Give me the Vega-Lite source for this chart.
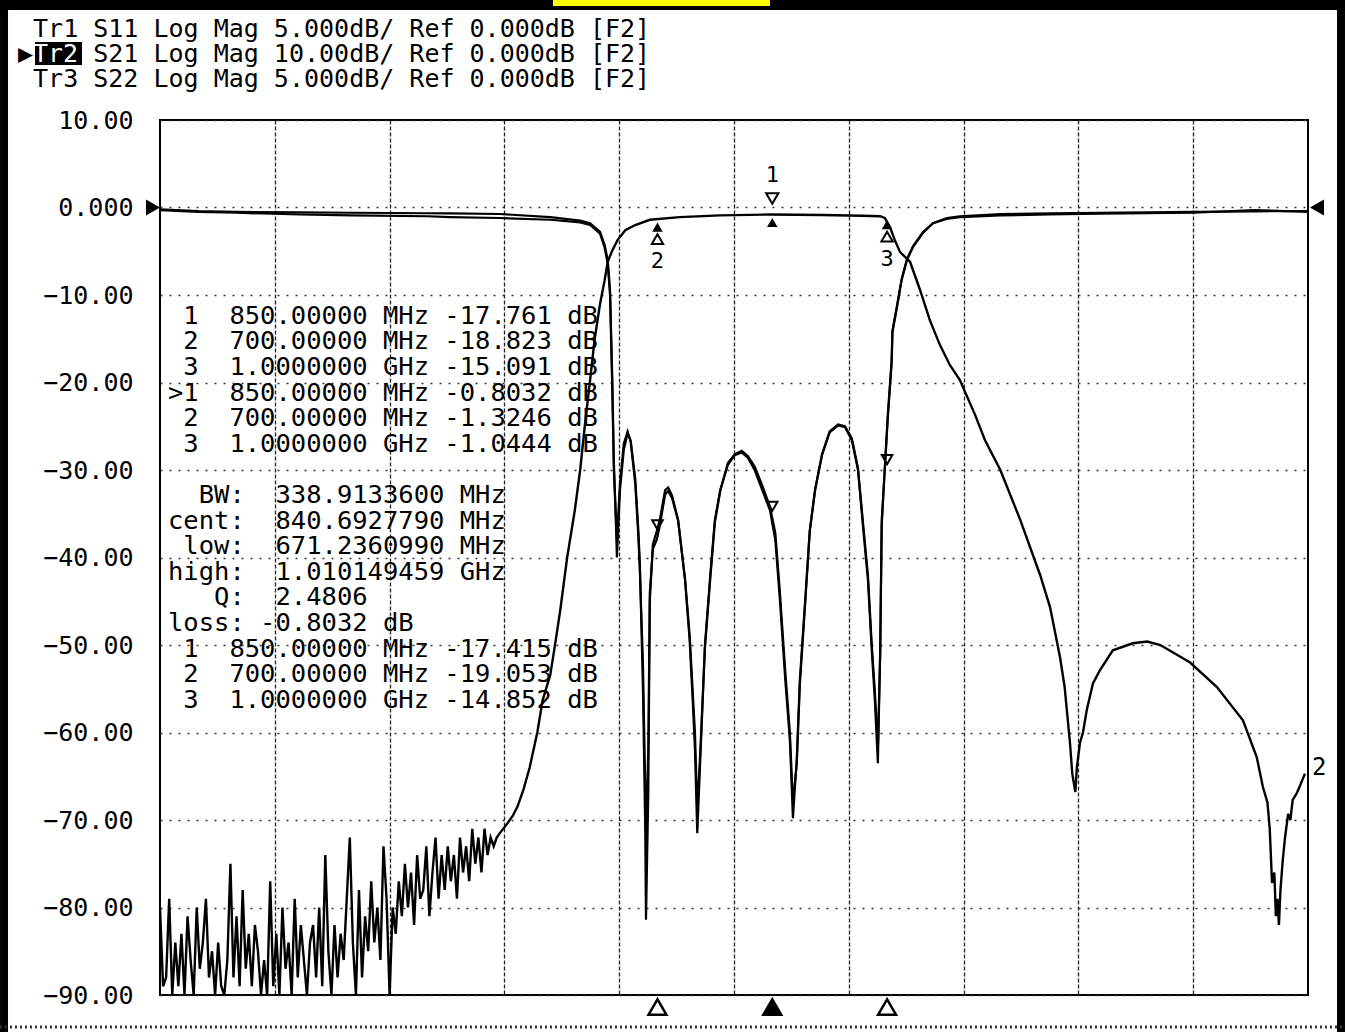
{
  "$schema": "https://vega.github.io/schema/vega-lite/v6.json",
  "width": 1148,
  "height": 875,
  "autosize": {"type": "none"},
  "padding": {"left": 160, "top": 120, "right": 37, "bottom": 37},
  "background": "white",
  "config": {
    "view": {"stroke": "black", "strokeWidth": 2},
    "axisX": {"grid": true, "labels": false, "ticks": false, "domain": false, "title": null, "gridColor": "#222", "gridDash": [4, 2], "gridWidth": 1.3},
    "axisY": {"grid": true, "ticks": false, "domain": false, "title": null, "gridColor": "#333", "gridDash": [2, 7], "gridWidth": 1.5, "labelFont": "DejaVu Sans Mono", "labelFontSize": 25, "labelColor": "black", "labelPadding": 27, "labelFlush": false, "labelOverlap": false, "labelBound": false}
  },
  "datasets": {
    "s21": [
      {"f":50,"db":-80},{"f":54,"db":-89},{"f":58,"db":-88},{"f":62,"db":-79},{"f":66,"db":-90},{"f":70,"db":-84},{"f":74,"db":-89},{"f":78,"db":-83},{"f":82,"db":-90},{"f":86,"db":-81},{"f":90,"db":-86},{"f":94,"db":-90},{"f":98,"db":-80},{"f":102,"db":-87},{"f":106,"db":-84},{"f":110,"db":-79},{"f":114,"db":-88},{"f":118,"db":-85},{"f":122,"db":-90},{"f":126,"db":-84},{"f":130,"db":-89},{"f":134,"db":-90},{"f":138,"db":-86},{"f":142,"db":-75},{"f":146,"db":-88},{"f":150,"db":-81},{"f":154,"db":-89},{"f":158,"db":-78},{"f":162,"db":-87},{"f":166,"db":-83},{"f":170,"db":-89},{"f":174,"db":-82},{"f":178,"db":-85},{"f":182,"db":-90},{"f":186,"db":-86},{"f":190,"db":-90},{"f":194,"db":-77},{"f":198,"db":-89},{"f":202,"db":-83},{"f":206,"db":-90},{"f":210,"db":-80},{"f":214,"db":-87},{"f":218,"db":-84},{"f":222,"db":-90},{"f":226,"db":-79},{"f":230,"db":-88},{"f":234,"db":-82},{"f":238,"db":-86},{"f":242,"db":-90},{"f":246,"db":-84},{"f":250,"db":-82},{"f":254,"db":-88},{"f":258,"db":-80},{"f":262,"db":-89},{"f":266,"db":-74},{"f":270,"db":-85},{"f":274,"db":-90},{"f":278,"db":-82},{"f":282,"db":-88},{"f":286,"db":-83},{"f":290,"db":-86},{"f":294,"db":-79},{"f":298,"db":-72},{"f":302,"db":-84},{"f":306,"db":-90},{"f":310,"db":-78},{"f":314,"db":-88},{"f":318,"db":-81},{"f":322,"db":-85},{"f":326,"db":-77},{"f":330,"db":-84},{"f":334,"db":-80},{"f":338,"db":-86},{"f":342,"db":-73},{"f":346,"db":-79},{"f":350,"db":-90},{"f":354,"db":-80},{"f":358,"db":-83},{"f":362,"db":-77},{"f":366,"db":-81},{"f":370,"db":-75},{"f":374,"db":-80},{"f":378,"db":-76},{"f":382,"db":-82},{"f":386,"db":-74},{"f":390,"db":-79},{"f":394,"db":-78},{"f":398,"db":-73},{"f":402,"db":-81},{"f":406,"db":-76},{"f":410,"db":-72},{"f":414,"db":-79},{"f":418,"db":-74},{"f":422,"db":-78},{"f":426,"db":-73},{"f":430,"db":-77},{"f":434,"db":-74},{"f":438,"db":-79},{"f":442,"db":-72},{"f":446,"db":-76},{"f":450,"db":-73},{"f":454,"db":-77},{"f":458,"db":-71},{"f":462,"db":-75},{"f":466,"db":-72},{"f":470,"db":-76},{"f":474,"db":-71},{"f":478,"db":-74},{"f":482,"db":-72},{"f":486,"db":-73},{"f":490,"db":-72},{"f":494,"db":-71.5},
      {"f":503,"db":-70.5},{"f":511,"db":-69.5},{"f":517,"db":-68.5},{"f":525,"db":-66.5},{"f":533,"db":-64},{"f":543,"db":-60},{"f":550,"db":-56.3},{"f":560,"db":-53.4},{"f":567,"db":-49.5},{"f":573,"db":-46},{"f":582,"db":-40},{"f":592,"db":-34.6},{"f":599,"db":-30},{"f":605,"db":-25},{"f":612,"db":-19.7},{"f":618,"db":-15},{"f":625,"db":-11},{"f":631,"db":-8.3},{"f":635,"db":-6.2},{"f":641,"db":-4.9},{"f":648,"db":-3.7},{"f":658,"db":-2.6},{"f":671,"db":-2},{"f":690,"db":-1.4},{"f":729,"db":-1.1},{"f":782,"db":-0.9},{"f":847,"db":-0.8},{"f":915,"db":-0.85},{"f":967,"db":-0.95},{"f":991,"db":-1.0},{"f":997,"db":-1.2},{"f":1004,"db":-2.3},{"f":1010,"db":-3.7},{"f":1017,"db":-5.1},{"f":1030,"db":-6.2},{"f":1043,"db":-9.4},{"f":1056,"db":-12.9},{"f":1069,"db":-15.7},{"f":1082,"db":-18},{"f":1095,"db":-19.7},{"f":1115,"db":-23.7},{"f":1128,"db":-26.6},{"f":1148,"db":-30},{"f":1174,"db":-35.7},{"f":1200,"db":-42},{"f":1213,"db":-45.7},{"f":1226,"db":-51.4},{"f":1232,"db":-54.8},{"f":1239,"db":-61.2},{"f":1242,"db":-64.7},{"f":1246,"db":-66.8},{"f":1248,"db":-64},{"f":1252,"db":-61.2},{"f":1256,"db":-60},{"f":1261,"db":-57.4},{"f":1269,"db":-54.4},{"f":1278,"db":-52.9},{"f":1295,"db":-50.6},{"f":1321,"db":-49.8},{"f":1340,"db":-49.6},{"f":1357,"db":-50},{"f":1396,"db":-52},{"f":1431,"db":-54.8},{"f":1465,"db":-58.6},{"f":1483,"db":-62.8},{"f":1491,"db":-66.2},{"f":1497,"db":-68},{"f":1500,"db":-71},{"f":1503,"db":-77.2},{"f":1506,"db":-76},{"f":1508,"db":-81},{"f":1510,"db":-79},{"f":1512,"db":-82},{"f":1514,"db":-78},{"f":1517,"db":-74.6},{"f":1520,"db":-72},{"f":1524,"db":-69.3},{"f":1527,"db":-70},{"f":1530,"db":-67.7},{"f":1535,"db":-67},{"f":1539,"db":-66.2},{"f":1546,"db":-64.7}
    ],
    "refl": [
      {"f":50,"s11":-0.1,"s22":-0.15},{"f":100,"s11":-0.2,"s22":-0.25},{"f":150,"s11":-0.25,"s22":-0.3},{"f":233,"s11":-0.28,"s22":-0.4},{"f":300,"s11":-0.3,"s22":-0.45},{"f":400,"s11":-0.33,"s22":-0.5},{"f":429,"s11":-0.34,"s22":-0.55},{"f":494,"s11":-0.37,"s22":-0.6},{"f":560,"s11":-0.55,"s22":-0.7},{"f":599,"s11":-0.75,"s22":-0.85},{"f":612,"s11":-0.9,"s22":-1.0},{"f":625,"s11":-1.4,"s22":-1.5},{"f":631,"s11":-2.15,"s22":-2.3},{"f":635,"s11":-3.0,"s22":-3.2},{"f":638,"s11":-4.7,"s22":-5.0},{"f":641,"s11":-9.85,"s22":-10.5},{"f":643,"s11":-14.45,"s22":-15},{"f":646,"s11":-18.45,"s22":-18},{"f":647,"s11":-20,"s22":-19},{"f":651,"s11":-16.15,"s22":-15.8},{"f":656,"s11":-13.85,"s22":-13.5},{"f":661,"s11":-12.9,"s22":-12.8},{"f":665,"s11":-13.3,"s22":-13.4},{"f":671,"s11":-15.5,"s22":-15.8},{"f":675,"s11":-18.45,"s22":-18.8},{"f":677,"s11":-20.3,"s22":-20.8},{"f":681,"s11":-27.5,"s22":-26},{"f":684,"s11":-35.5,"s22":-33},{"f":685,"s11":-40.7,"s22":-36},{"f":688,"s11":-33.5,"s22":-31},{"f":690,"s11":-22.5,"s22":-22},{"f":694,"s11":-19.25,"s22":-19.5},{"f":699,"s11":-18.5,"s22":-19},{"f":703,"s11":-17.85,"s22":-18.2},{"f":710,"s11":-16.15,"s22":-16.4},{"f":714,"s11":-16.0,"s22":-16.2},{"f":719,"s11":-16.45,"s22":-16.6},{"f":727,"s11":-17.85,"s22":-17.9},{"f":736,"s11":-21.3,"s22":-21.2},{"f":742,"s11":-24.7,"s22":-24.4},{"f":746,"s11":-28.15,"s22":-27.6},{"f":749,"s11":-31,"s22":-30},{"f":752,"s11":-35.75,"s22":-34.5},{"f":756,"s11":-31.5,"s22":-31},{"f":762,"s11":-25,"s22":-25.2},{"f":769,"s11":-21,"s22":-21.2},{"f":775,"s11":-17.85,"s22":-18},{"f":782,"s11":-16.15,"s22":-16.2},{"f":792,"s11":-14.7,"s22":-14.6},{"f":801,"s11":-14.15,"s22":-14.1},{"f":810,"s11":-14.0,"s22":-13.9},{"f":818,"s11":-14.3,"s22":-14.2},{"f":827,"s11":-15.0,"s22":-14.8},{"f":837,"s11":-16.15,"s22":-15.9},{"f":847,"s11":-17.3,"s22":-17.1},{"f":854,"s11":-19,"s22":-18.6},{"f":860,"s11":-22.45,"s22":-22},{"f":867,"s11":-27,"s22":-26.5},{"f":873,"s11":-30.45,"s22":-30},{"f":877,"s11":-34.9,"s22":-34},{"f":882,"s11":-31.5,"s22":-31.8},{"f":886,"s11":-27,"s22":-27.3},{"f":893,"s11":-22.45,"s22":-22.6},{"f":899,"s11":-18.45,"s22":-18.5},{"f":906,"s11":-16.15,"s22":-16.1},{"f":915,"s11":-14.15,"s22":-14.1},{"f":925,"s11":-12.85,"s22":-12.8},{"f":936,"s11":-12.45,"s22":-12.4},{"f":945,"s11":-12.55,"s22":-12.5},{"f":954,"s11":-13.3,"s22":-13.2},{"f":962,"s11":-15,"s22":-14.9},{"f":969,"s11":-18.45,"s22":-18.2},{"f":975,"s11":-21.3,"s22":-21},{"f":980,"s11":-25.3,"s22":-25},{"f":984,"s11":-28.15,"s22":-27.6},{"f":988,"s11":-31.75,"s22":-30.8},{"f":991,"s11":-25.3,"s22":-25.6},{"f":993,"s11":-17.85,"s22":-18.2},{"f":997,"s11":-15.0,"s22":-14.9},{"f":1001,"s11":-12.0,"s22":-11.8},{"f":1006,"s11":-8.9,"s22":-8.7},{"f":1007,"s11":-7.15,"s22":-7.0},{"f":1013,"s11":-5.7,"s22":-5.6},{"f":1019,"s11":-4.15,"s22":-4.1},{"f":1026,"s11":-3.0,"s22":-2.95},{"f":1034,"s11":-2.25,"s22":-2.2},{"f":1047,"s11":-1.45,"s22":-1.4},{"f":1060,"s11":-0.9,"s22":-0.9},{"f":1078,"s11":-0.6,"s22":-0.65},{"f":1095,"s11":-0.5,"s22":-0.55},{"f":1148,"s11":-0.37,"s22":-0.45},{"f":1213,"s11":-0.33,"s22":-0.4},{"f":1278,"s11":-0.3,"s22":-0.35},{"f":1400,"s11":-0.25,"s22":-0.3},{"f":1480,"s11":-0.22,"s22":-0.15},{"f":1550,"s11":-0.2,"s22":-0.25}
    ],
    "markers": [
      {"m":"1","f":850,"s21":-0.8032,"s11":-17.761,"s22":-17.415},
      {"m":"2","f":700,"s21":-1.3246,"s11":-18.823,"s22":-19.053},
      {"m":"3","f":1000,"s21":-1.0444,"s11":-15.091,"s22":-14.852}
    ]
  },
  "layer": [
    {
      "layer": [
        {
          "data": {"name": "s21"},
          "mark": {"type": "line", "color": "black", "strokeWidth": 2.4, "clip": true},
          "encoding": {
            "x": {"field": "f", "type": "quantitative", "scale": {"domain": [50, 1550], "nice": false, "zero": false}, "axis": {"values": [200, 350, 500, 650, 800, 950, 1100, 1250, 1400]}},
            "y": {"field": "db", "type": "quantitative", "scale": {"domain": [-90, 10], "nice": false, "zero": false}, "axis": {"values": [-90, -80, -70, -60, -50, -40, -30, -20, -10, 0, 10], "labelExpr": "datum.value == 0 ? '0.000' : format(datum.value, '.2f')"}}
          }
        },
        {
          "data": {"name": "markers"},
          "mark": {"type": "point", "shape": "triangle-up", "filled": true, "color": "black", "size": 110, "opacity": 1},
          "encoding": {
            "x": {"field": "f", "type": "quantitative", "scale": {"domain": [50, 1550], "nice": false, "zero": false}},
            "y": {"field": "s21", "type": "quantitative", "scale": {"domain": [-90, 10], "nice": false, "zero": false}},
            "yOffset": {"value": 8}
          }
        },
        {
          "data": {"name": "markers"},
          "transform": [{"filter": "datum.m == '1'"}],
          "mark": {"type": "point", "shape": "triangle-down", "filled": false, "stroke": "black", "strokeWidth": 2, "size": 150, "opacity": 1},
          "encoding": {
            "x": {"field": "f", "type": "quantitative", "scale": {"domain": [50, 1550], "nice": false, "zero": false}},
            "y": {"field": "s21", "type": "quantitative", "scale": {"domain": [-90, 10], "nice": false, "zero": false}},
            "yOffset": {"value": -16}
          }
        },
        {
          "data": {"name": "markers"},
          "transform": [{"filter": "datum.m != '1'"}],
          "mark": {"type": "point", "shape": "triangle-up", "filled": false, "stroke": "black", "strokeWidth": 2, "size": 130, "opacity": 1},
          "encoding": {
            "x": {"field": "f", "type": "quantitative", "scale": {"domain": [50, 1550], "nice": false, "zero": false}},
            "y": {"field": "s21", "type": "quantitative", "scale": {"domain": [-90, 10], "nice": false, "zero": false}},
            "yOffset": {"value": 20}
          }
        },
        {
          "data": {"name": "markers"},
          "transform": [{"filter": "datum.m == '1'"}],
          "mark": {"type": "text", "font": "DejaVu Sans Mono", "fontSize": 22, "color": "black", "dy": -40},
          "encoding": {
            "x": {"field": "f", "type": "quantitative", "scale": {"domain": [50, 1550], "nice": false, "zero": false}},
            "y": {"field": "s21", "type": "quantitative", "scale": {"domain": [-90, 10], "nice": false, "zero": false}},
            "text": {"field": "m"}
          }
        },
        {
          "data": {"name": "markers"},
          "transform": [{"filter": "datum.m != '1'"}],
          "mark": {"type": "text", "font": "DejaVu Sans Mono", "fontSize": 22, "color": "black", "dy": 42},
          "encoding": {
            "x": {"field": "f", "type": "quantitative", "scale": {"domain": [50, 1550], "nice": false, "zero": false}},
            "y": {"field": "s21", "type": "quantitative", "scale": {"domain": [-90, 10], "nice": false, "zero": false}},
            "text": {"field": "m"}
          }
        },
        {
          "data": {"name": "markers"},
          "mark": {"type": "point", "shape": "triangle-up", "stroke": "black", "strokeWidth": 2.5, "size": 320, "opacity": 1},
          "encoding": {
            "x": {"field": "f", "type": "quantitative", "scale": {"domain": [50, 1550], "nice": false, "zero": false}},
            "y": {"datum": -90, "type": "quantitative", "scale": {"domain": [-90, 10], "nice": false, "zero": false}},
            "yOffset": {"value": 12},
            "fill": {"condition": {"test": "datum.m == '1'", "value": "black"}, "value": "white"}
          }
        },
        {
          "data": {"values": [{}]},
          "mark": {"type": "point", "shape": "triangle-right", "filled": true, "color": "black", "size": 260, "opacity": 1},
          "encoding": {
            "x": {"datum": 50, "type": "quantitative", "scale": {"domain": [50, 1550], "nice": false, "zero": false}},
            "y": {"datum": 0, "type": "quantitative", "scale": {"domain": [-90, 10], "nice": false, "zero": false}},
            "xOffset": {"value": -7}
          }
        },
        {
          "data": {"values": [{}]},
          "mark": {"type": "point", "shape": "triangle-left", "filled": true, "color": "black", "size": 260, "opacity": 1},
          "encoding": {
            "x": {"datum": 1550, "type": "quantitative", "scale": {"domain": [50, 1550], "nice": false, "zero": false}},
            "y": {"datum": 0, "type": "quantitative", "scale": {"domain": [-90, 10], "nice": false, "zero": false}},
            "xOffset": {"value": 9}
          }
        },
        {
          "data": {"values": [{}]},
          "mark": {"type": "text", "text": "2", "font": "DejaVu Sans Mono", "fontSize": 24, "color": "black", "align": "left", "dx": 4},
          "encoding": {
            "x": {"datum": 1550, "type": "quantitative", "scale": {"domain": [50, 1550], "nice": false, "zero": false}},
            "y": {"datum": -64, "type": "quantitative", "scale": {"domain": [-90, 10], "nice": false, "zero": false}}
          }
        },
        {
          "data": {"values": [{}]},
          "mark": {
            "type": "text",
            "text": ["\u200b\u00a01\u00a0\u00a0850.00000\u00a0MHz\u00a0-17.761\u00a0dB", "\u200b\u00a02\u00a0\u00a0700.00000\u00a0MHz\u00a0-18.823\u00a0dB", "\u200b\u00a03\u00a0\u00a01.0000000\u00a0GHz\u00a0-15.091\u00a0dB", ">1\u00a0\u00a0850.00000\u00a0MHz\u00a0-0.8032\u00a0dB", "\u200b\u00a02\u00a0\u00a0700.00000\u00a0MHz\u00a0-1.3246\u00a0dB", "\u200b\u00a03\u00a0\u00a01.0000000\u00a0GHz\u00a0-1.0444\u00a0dB", "\u200b\u00a0", "\u200b\u00a0\u00a0BW:\u00a0\u00a0338.9133600\u00a0MHz", "cent:\u00a0\u00a0840.6927790\u00a0MHz", "\u200b\u00a0low:\u00a0\u00a0671.2360990\u00a0MHz", "high:\u00a0\u00a01.010149459\u00a0GHz", "\u200b\u00a0\u00a0\u00a0Q:\u00a0\u00a02.4806", "loss:\u00a0-0.8032\u00a0dB", "\u200b\u00a01\u00a0\u00a0850.00000\u00a0MHz\u00a0-17.415\u00a0dB", "\u200b\u00a02\u00a0\u00a0700.00000\u00a0MHz\u00a0-19.053\u00a0dB", "\u200b\u00a03\u00a0\u00a01.0000000\u00a0GHz\u00a0-14.852\u00a0dB"],
            "align": "left",
            "baseline": "top",
            "font": "DejaVu Sans Mono",
            "fontSize": 25.5,
            "lineHeight": 25.6,
            "dx": 8,
            "color": "black"
          },
          "encoding": {
            "x": {"datum": 50, "type": "quantitative", "scale": {"domain": [50, 1550], "nice": false, "zero": false}},
            "y": {"datum": -11, "type": "quantitative", "scale": {"domain": [-90, 10], "nice": false, "zero": false}}
          }
        },
        {
          "data": {"values": [{}]},
          "mark": {
            "type": "text",
            "text": ["\u200b\u00a0Tr1\u00a0S11\u00a0Log\u00a0Mag\u00a05.000dB/\u00a0Ref\u00a00.000dB\u00a0[F2]", "▶\u00a0\u00a0\u00a0\u00a0S21\u00a0Log\u00a0Mag\u00a010.00dB/\u00a0Ref\u00a00.000dB\u00a0[F2]", "\u200b\u00a0Tr3\u00a0S22\u00a0Log\u00a0Mag\u00a05.000dB/\u00a0Ref\u00a00.000dB\u00a0[F2]"],
            "align": "left",
            "baseline": "top",
            "font": "DejaVu Sans Mono",
            "fontSize": 25,
            "lineHeight": 25,
            "dx": -142,
            "color": "black"
          },
          "encoding": {
            "x": {"datum": 50, "type": "quantitative", "scale": {"domain": [50, 1550], "nice": false, "zero": false}},
            "y": {"datum": 21.77, "type": "quantitative", "scale": {"domain": [-90, 10], "nice": false, "zero": false}}
          }
        },
        {
          "data": {"values": [{}]},
          "mark": {"type": "rect", "color": "black", "opacity": 1},
          "encoding": {
            "x": {"datum": -113.3, "type": "quantitative", "scale": {"domain": [50, 1550], "nice": false, "zero": false}},
            "x2": {"datum": -51.9},
            "y": {"datum": 18.91, "type": "quantitative", "scale": {"domain": [-90, 10], "nice": false, "zero": false}},
            "y2": {"datum": 16.29}
          }
        },
        {
          "data": {"values": [{}]},
          "mark": {"type": "text", "text": "Tr2", "align": "left", "baseline": "top", "font": "DejaVu Sans Mono", "fontSize": 25, "dx": -127, "dy": 25, "color": "white"},
          "encoding": {
            "x": {"datum": 50, "type": "quantitative", "scale": {"domain": [50, 1550], "nice": false, "zero": false}},
            "y": {"datum": 21.77, "type": "quantitative", "scale": {"domain": [-90, 10], "nice": false, "zero": false}}
          }
        },
        {
          "data": {"values": [{}]},
          "mark": {"type": "rule", "color": "black", "strokeWidth": 8},
          "encoding": {
            "x": {"datum": -153.8, "type": "quantitative", "scale": {"domain": [50, 1550], "nice": false, "zero": false}},
            "y": {"datum": 23.71, "type": "quantitative", "scale": {"domain": [-90, 10], "nice": false, "zero": false}},
            "y2": {"datum": -94.23}
          }
        },
        {
          "data": {"values": [{}]},
          "mark": {"type": "rule", "color": "black", "strokeWidth": 8},
          "encoding": {
            "x": {"datum": 1593.1, "type": "quantitative", "scale": {"domain": [50, 1550], "nice": false, "zero": false}},
            "y": {"datum": 23.71, "type": "quantitative", "scale": {"domain": [-90, 10], "nice": false, "zero": false}},
            "y2": {"datum": -94.23}
          }
        },
        {
          "data": {"values": [{}]},
          "mark": {"type": "rule", "color": "black", "strokeWidth": 10},
          "encoding": {
            "x": {"datum": -159.1, "type": "quantitative", "scale": {"domain": [50, 1550], "nice": false, "zero": false}},
            "x2": {"datum": 1598.3},
            "y": {"datum": 23.14, "type": "quantitative", "scale": {"domain": [-90, 10], "nice": false, "zero": false}}
          }
        },
        {
          "data": {"values": [{}]},
          "mark": {"type": "rule", "color": "#ffff00", "strokeWidth": 6},
          "encoding": {
            "x": {"datum": 563.5, "type": "quantitative", "scale": {"domain": [50, 1550], "nice": false, "zero": false}},
            "x2": {"datum": 847},
            "y": {"datum": 23.37, "type": "quantitative", "scale": {"domain": [-90, 10], "nice": false, "zero": false}}
          }
        },
        {
          "data": {"values": [{}]},
          "mark": {"type": "rule", "color": "#333", "strokeWidth": 3, "strokeDash": [2, 3]},
          "encoding": {
            "x": {"datum": -159.1, "type": "quantitative", "scale": {"domain": [50, 1550], "nice": false, "zero": false}},
            "x2": {"datum": 1598.3},
            "y": {"datum": -93.66, "type": "quantitative", "scale": {"domain": [-90, 10], "nice": false, "zero": false}}
          }
        }
      ]
    },
    {
      "layer": [
        {
          "data": {"name": "refl"},
          "mark": {"type": "line", "color": "black", "strokeWidth": 2.2, "clip": true},
          "encoding": {
            "x": {"field": "f", "type": "quantitative", "scale": {"domain": [50, 1550], "nice": false, "zero": false}},
            "y": {"field": "s22", "type": "quantitative", "scale": {"domain": [-45, 5], "nice": false, "zero": false}, "axis": null}
          }
        },
        {
          "data": {"name": "refl"},
          "mark": {"type": "line", "color": "black", "strokeWidth": 2.2, "clip": true},
          "encoding": {
            "x": {"field": "f", "type": "quantitative", "scale": {"domain": [50, 1550], "nice": false, "zero": false}},
            "y": {"field": "s11", "type": "quantitative", "scale": {"domain": [-45, 5], "nice": false, "zero": false}, "axis": null}
          }
        },
        {
          "data": {"name": "markers"},
          "mark": {"type": "point", "shape": "triangle-down", "filled": false, "stroke": "black", "strokeWidth": 2, "size": 110, "opacity": 1},
          "encoding": {
            "x": {"field": "f", "type": "quantitative", "scale": {"domain": [50, 1550], "nice": false, "zero": false}},
            "y": {"field": "s11", "type": "quantitative", "scale": {"domain": [-45, 5], "nice": false, "zero": false}, "axis": null},
            "yOffset": {"value": -12}
          }
        }
      ]
    }
  ],
  "resolve": {"scale": {"y": "independent"}}
}
